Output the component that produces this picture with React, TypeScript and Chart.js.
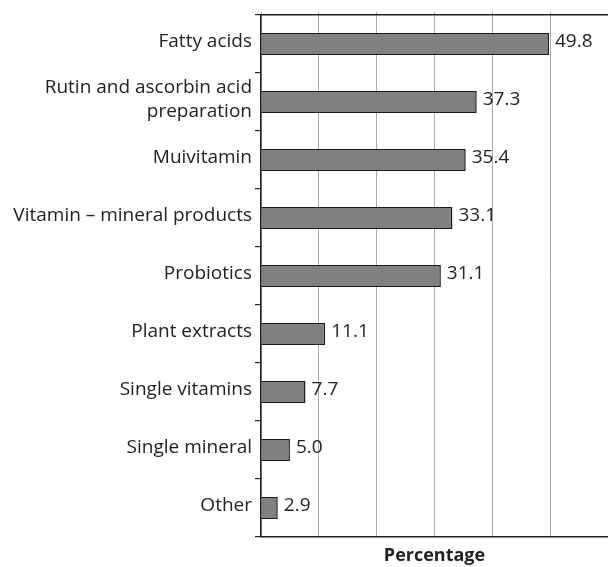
import React, { useEffect, useRef } from "react";
import { Chart, registerables } from "chart.js";

Chart.register(...registerables);

const categories: (string | string[])[] = [
  "Fatty acids",
  ["Rutin and ascorbin acid", "preparation"],
  "Muivitamin",
  "Vitamin – mineral products",
  "Probiotics",
  "Plant extracts",
  "Single vitamins",
  "Single mineral",
  "Other",
];
const values = [49.8, 37.3, 35.4, 33.1, 31.1, 11.1, 7.7, 5.0, 2.9];
const xTitle = "Percentage";

const FONT = "'Open Sans', 'Noto Sans', sans-serif";
const TEXT = "#222";

const valueLabels = {
  id: "valueLabels",
  afterDatasetsDraw(chart: any) {
    const { ctx } = chart;
    const meta = chart.getDatasetMeta(0);
    ctx.save();
    ctx.font = `19px ${FONT}`;
    ctx.fillStyle = TEXT;
    ctx.textAlign = "left";
    ctx.textBaseline = "middle";
    meta.data.forEach((bar: any, i: number) => {
      ctx.fillText(values[i].toFixed(1), bar.x + 6, bar.y - 2);
    });
    ctx.restore();
  },
};

export default function App() {
  const ref = useRef<HTMLCanvasElement>(null);
  useEffect(() => {
    document.body.style.margin = "0";
    const chart = new Chart(ref.current!, {
      type: "bar",
      data: {
        labels: categories,
        datasets: [
          {
            data: values,
            backgroundColor: "#808080",
            borderColor: "#1a1a1a",
            borderWidth: 1.5,
            barPercentage: 0.76,
            categoryPercentage: 0.5,
          },
        ],
      },
      options: {
        indexAxis: "y",
        animation: false,
        responsive: false,
        layout: { padding: 0 },
        plugins: { legend: { display: false }, tooltip: { enabled: false } },
        scales: {
          x: {
            position: "bottom",
            min: 0,
            max: 60,
            ticks: { display: false, stepSize: 10 },
            grid: { color: "#aaa", lineWidth: 1, drawTicks: false },
            border: { display: true, color: "#222", width: 1.5 },
            title: {
              display: true,
              text: xTitle,
              color: TEXT,
              font: { family: FONT, size: 18, weight: "bold" },
              padding: { top: 5, bottom: 0 },
            },
            afterFit(scale: any) {
              scale.height = 30;
            },
          },
          x2: {
            position: "top",
            min: 0,
            max: 60,
            ticks: { display: false, stepSize: 10 },
            grid: { color: "#aaa", drawOnChartArea: false, tickLength: 3 },
            border: { display: true, color: "#222", width: 1.5 },
            afterFit(scale: any) {
              scale.height = 14;
            },
          },
          y: {
            offset: true,
            ticks: {
              color: TEXT,
              font: { family: FONT, size: 19, lineHeight: 1.26 },
              padding: 3,
              labelOffset: -2,
            },
            grid: {
              offset: true,
              drawOnChartArea: false,
              color: "#222",
              tickLength: 6,
              lineWidth: 1.2,
            },
            border: { display: true, color: "#222", width: 1.5 },
            afterFit(scale: any) {
              scale.width = 261;
            },
          },
        },
      },
      plugins: [valueLabels],
    });
    return () => chart.destroy();
  }, []);
  return (
    <div style={{ position: "absolute", left: 0, top: 0, width: 608, height: 567, background: "#fff" }}>
      <canvas ref={ref} width={608} height={567} style={{ display: "block" }} />
    </div>
  );
}
